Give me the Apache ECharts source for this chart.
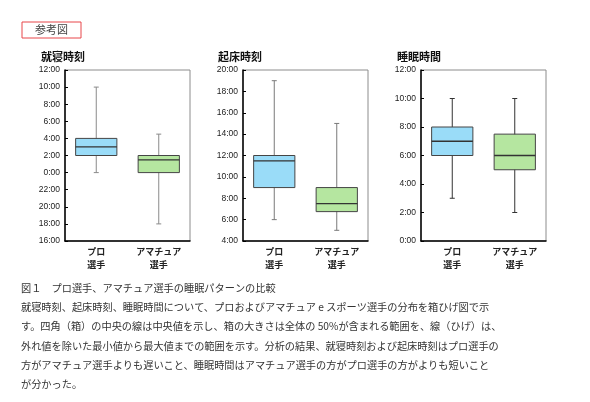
<!DOCTYPE html>
<html><head><meta charset="utf-8">
<script src="https://cdn.jsdelivr.net/npm/echarts@6/dist/echarts.min.js"></script>
<style>html,body{margin:0;padding:0;background:#fff}#c{width:590px;height:402px}</style>
</head><body><div id="c"></div>
<script>
// ---- data ----
const categories = ['プロ\n選手', 'アマチュア\n選手'];
const chartTitles = ['就寝時刻', '起床時刻', '睡眠時間'];
// [min, Q1, median, Q3, max] in hours (bedtime: negative = previous day)
const bedPro = [0, 2, 3, 4, 10];
const bedAmateur = [-6, 0, 1.5, 2, 4.5];
const wakePro = [6, 9, 11.5, 12, 19];
const wakeAmateur = [5, 6.75, 7.5, 9, 15];
const sleepPro = [3, 6, 7, 8, 10];
const sleepAmateur = [2, 5, 6, 7.5, 10];
const yRanges = [[-8, 12], [4, 20], [0, 12]];
const yInterval = 2;
const captionLines = [
  '図１　プロ選手、アマチュア選手の睡眠パターンの比較',
  '就寝時刻、起床時刻、睡眠時間について、プロおよびアマチュア e スポーツ選手の分布を箱ひげ図で示',
  'す。四角（箱）の中央の線は中央値を示し、箱の大きさは全体の 50%が含まれる範囲を、線（ひげ）は、',
  '外れ値を除いた最小値から最大値までの範囲を示す。分析の結果、就寝時刻および起床時刻はプロ選手の',
  '方がアマチュア選手よりも遅いこと、睡眠時間はアマチュア選手の方がプロ選手の方がよりも短いこと',
  'が分かった。'
];

// ---- styles ----
const boxColors = ['#9ADCF8', '#B5E6A0'];
const whiskerColors = ['#8a8a8a', '#7a7a7a', '#333333'];
const gridLefts = [65, 243, 421];
const titleLefts = [36, 213, 392];

const seriesData = [[bedPro, bedAmateur], [wakePro, wakeAmateur], [sleepPro, sleepAmateur]];

function fmt(v) { const h = ((v % 24) + 24) % 24; return h + ':00'; }

const grids = [], xAxes = [], yAxes = [], series = [], titles = [];
for (let i = 0; i < 3; i++) {
  grids.push({ left: gridLefts[i], top: 70, width: 125, height: 171, show: true,
    borderColor: '#8c8c8c', borderWidth: 1, backgroundColor: 'transparent' });
  xAxes.push({ type: 'category', gridIndex: i, data: categories, boundaryGap: true,
    axisLine: { onZero: false, lineStyle: { color: '#000', width: 1.5 } },
    axisTick: { inside: true, alignWithLabel: true, length: 3, lineStyle: { color: '#000' } },
    axisLabel: { fontSize: 9, fontWeight: 'bold', color: '#222', lineHeight: 13, margin: 4,
      fontFamily: 'Noto Sans CJK JP' } });
  yAxes.push({ type: 'value', gridIndex: i, min: yRanges[i][0], max: yRanges[i][1], interval: yInterval,
    splitLine: { show: false },
    axisLine: { show: true, onZero: false, lineStyle: { color: '#000', width: 1.5 } },
    axisTick: { show: true, inside: true, length: 3, lineStyle: { color: '#000' } },
    axisLabel: { fontSize: 8.5, color: '#222', margin: 5, formatter: fmt, fontFamily: 'Liberation Sans' } });
  titles.push({ text: chartTitles[i], left: titleLefts[i], top: 46,
    textStyle: { fontSize: 11, fontWeight: 'bold', color: '#111', fontFamily: 'Noto Sans CJK JP' } });
  const wc = whiskerColors[i];
  series.push({
    type: 'custom', xAxisIndex: i, yAxisIndex: i,
    data: seriesData[i].map((s, k) => [k].concat(s)),
    encode: { x: 0, y: [1, 2, 3, 4, 5] },
    renderItem: function (params, api) {
      const k = api.value(0);
      const p = v => api.coord([k, v]);
      const x = p(api.value(3))[0];
      const yMin = p(api.value(1))[1], yQ1 = p(api.value(2))[1], yMed = p(api.value(3))[1],
            yQ3 = p(api.value(4))[1], yMax = p(api.value(5))[1];
      const bw = api.size([1, 0])[0] * 0.66;
      const cap = 2.5;
      const ls = { stroke: wc, lineWidth: 1 };
      return { type: 'group', children: [
        { type: 'line', shape: { x1: x, y1: yMin, x2: x, y2: yMax }, style: ls },
        { type: 'line', shape: { x1: x - cap, y1: yMin, x2: x + cap, y2: yMin }, style: ls },
        { type: 'line', shape: { x1: x - cap, y1: yMax, x2: x + cap, y2: yMax }, style: ls },
        { type: 'rect', shape: { x: x - bw / 2, y: yQ3, width: bw, height: yQ1 - yQ3 },
          style: { fill: boxColors[k], stroke: '#454545', lineWidth: 1 } },
        { type: 'line', shape: { x1: x - bw / 2, y1: yMed, x2: x + bw / 2, y2: yMed },
          style: { stroke: '#333', lineWidth: 1.3 } }
      ] };
    }
  });
}

const chart = echarts.init(document.getElementById('c'));
chart.setOption({
  backgroundColor: '#fff',
  animation: false,
  title: titles,
  grid: grids, xAxis: xAxes, yAxis: yAxes, series: series,
  graphic: [
    { type: 'rect', shape: { x: 22, y: 22, width: 59, height: 16 },
      style: { fill: '#fff', stroke: '#e8474b', lineWidth: 1 } },
    { type: 'text', x: 51.5, y: 30, style: { text: '参考図', fontSize: 11, fill: '#444',
      align: 'center', verticalAlign: 'middle', fontFamily: 'Noto Sans CJK JP' } },
    { type: 'text', x: 21, y: 278.6, style: { text: captionLines.join('\n'), fontSize: 10.2,
      lineHeight: 19.2, fill: '#333', fontFamily: 'Noto Sans CJK JP', verticalAlign: 'top' } }
  ]
});
</script></body></html>
